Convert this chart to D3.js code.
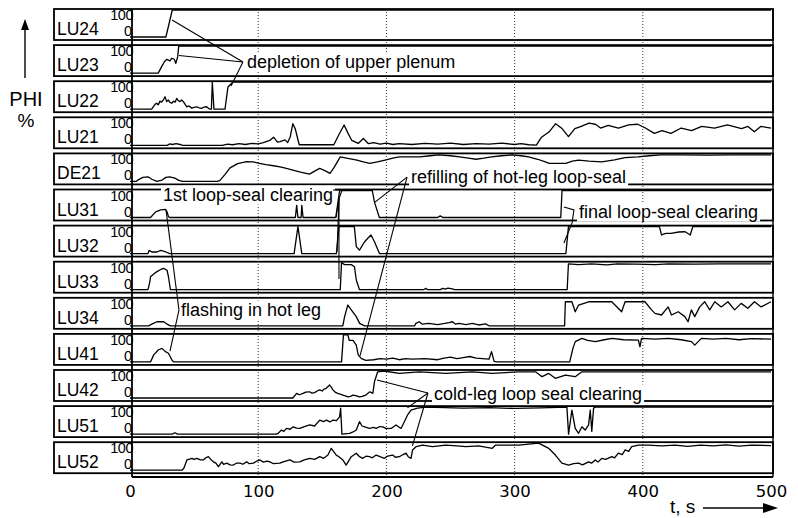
<!DOCTYPE html>
<html>
  <head>
    <meta charset="utf-8">
    <title>PHI strips</title>
    <style>
      body { margin: 0; background: #fff; }
      svg text { font-family: "Liberation Sans", Arial, sans-serif; fill: #000; }
      .num { font-family: "DejaVu Sans", sans-serif; }
    </style>
  </head>
  <body>
    <div id="vis"></div>
    <script src="https://d3js.org/d3.v7.min.js"></script>
    <script>
      // probe names, top to bottom
      const labels = ['LU24','LU23','LU22','LU21','DE21','LU31','LU32','LU33','LU34','LU41','LU42','LU51','LU52']
      const xTicks = [0,100,200,300,400,500]
      const gridTicks = [100,200,300,400]
      const rangeLabels = ['100','0']

      // [t in s, PHI in %]
      const lu24 = [[0,0],[28,0],[33,100],[500,100]]
      const lu23 = [[0,0],[22,0],[24.7,24],[26.8,42],[28.6,51],[31.2,45],[32.5,55],[34.6,51],[35.7,36],[37.2,61],[38,100],[500,100]]
      const lu22 = [[0,0],[16.9,0],[18,8],[19.5,18],[20.8,22],[22,16],[23.4,30],[24.6,26],[26,34],[27.3,46],[28.6,28],[29.9,34],[31,26],[32.5,22],[34,30],[35.2,26],[36.4,40],[37.6,32],[39,28],[40.3,34],[41.6,28],[43,18],[44.3,9],[46,12],[48.1,4],[50,7],[52,9],[54,5],[55.9,3],[57.8,8],[59.8,9],[61,4],[62.4,0],[63.5,0],[64.2,100],[65.5,0],[74.1,0],[76.4,82],[79.3,96],[80,100],[500,100]]
      const lu21 = [[0,0],[29,0],[31,5],[33,3],[36,6],[39,3],[41,0],[72,0],[76,4],[80,2],[85,6],[90,3],[95,7],[100,5],[104,10],[109,18],[112,30],[115,12],[117,14],[121,20],[123,10],[125,32],[127,80],[129,60],[130,40],[132,2],[159,2],[163,40],[167,75],[170,45],[173,18],[178,7],[182,25],[186,6],[190,10],[195,4],[200,8],[205,3],[210,6],[220,3],[230,7],[240,4],[250,8],[260,3],[270,6],[280,4],[290,8],[300,3],[305,6],[311,2],[317,1],[321,30],[327,50],[332,80],[337,62],[342,32],[347,62],[352,70],[358,82],[363,78],[367,64],[373,74],[381,64],[389,76],[396,78],[402,64],[409,44],[415,54],[422,44],[430,64],[438,54],[446,70],[456,64],[466,76],[477,62],[482,70],[487,50],[492,70],[500,64]]
      const de21 = [[0,0],[5,0],[6,5],[10,15],[14,17],[17,8],[21,0],[25,5],[28,15],[31,17],[35,12],[38,4],[41,0],[68,0],[70,3],[74,25],[78,50],[84,66],[91,73],[96,72],[101,67],[106,62],[112,58],[117,54],[122,48],[127,42],[133,34],[140,27],[144,38],[148,48],[152,40],[156,30],[159,50],[164,91],[170,85],[177,79],[182,72],[187,67],[193,72],[199,79],[205,86],[210,91],[218,91],[226,91],[234,95],[241,98],[250,95],[257,91],[264,86],[270,82],[276,86],[282,91],[290,95],[298,98],[305,95],[311,91],[318,82],[324,72],[327,67],[333,67],[340,67],[345,75],[350,79],[358,75],[368,72],[378,80],[386,88],[396,91],[405,95],[414,98],[430,98],[450,97],[470,98],[500,98]]
      const lu31 = [[0,0],[16,0],[20,21],[24,28],[27.6,30],[29,20],[30,3],[31,0],[129,0],[130,46],[131,0],[133.5,0],[134,46],[135,0],[160.5,0],[163.5,100],[189,100],[190.7,57],[194.5,0],[240,0],[242,6],[244,0],[336,0],[337,100],[500,100]]
      const lu32 = [[0,0],[14,0],[15,12],[17,6],[21,6],[24,12],[28,6],[31,0],[128,0],[131,100],[134,0],[161,0],[163,100],[175,100],[176.5,26],[179,13],[183,44],[185.5,57],[188,69],[190.7,44],[194.6,0],[340,0],[342,100],[413,100],[414.6,69],[418,75],[422,75],[428,80],[433,81],[437,69],[439,100],[500,100]]
      const lu33 = [[0,0],[14,0],[14.6,11],[15.5,30],[16,48],[19,60],[21,67],[24,75],[26.3,79],[28.9,72],[30,48],[31.5,0],[164,0],[165,100],[167.4,93],[172.6,93],[175.1,85],[176.5,36],[179,0],[229,0],[230.8,5],[232,0],[242,0],[244,5],[246,2],[248,6],[251.5,3],[253,0],[341,0],[342,96],[350,93],[360,96],[372,92],[380,96],[395,95],[410,93],[420,96],[440,95],[460,96],[500,96]]
      const lu34 = [[0,0],[14.6,0],[17,6],[21,15],[26.3,15],[29,6],[31.5,0],[166,0],[167.4,34],[169.9,77],[172.6,59],[176.5,34],[179.1,9],[183,0],[222,0],[223,9],[225.6,15],[228,6],[233,9],[240,4],[249,12],[251.5,15],[254,6],[256.7,9],[262,4],[267,9],[272,3],[277.4,7],[280,0],[339,0],[339.6,89],[344.7,89],[347.3,52],[349.9,77],[357.7,89],[375.8,89],[383.5,52],[386.2,89],[396.5,89],[401.7,89],[406.8,59],[409.5,46],[414.6,40],[419.8,70],[422.4,40],[427.6,52],[432.8,34],[435.3,15],[437.9,59],[440.5,34],[444.4,70],[448.3,89],[452.2,59],[456.1,89],[461.2,70],[466.4,89],[471.6,59],[476.7,83],[481.9,65],[487.1,89],[492.3,70],[500,89]]
      const lu41 = [[0,0],[16,0],[18.5,26],[22,44],[25,50],[27.6,38],[30,32],[32.8,6],[34,0],[165,0],[166.5,100],[170,100],[171,80],[174,80],[176.5,62],[178,26],[180.5,12],[184,6],[190,8],[195,12],[200,10],[205,14],[210,8],[215,12],[220,10],[230,12],[240,8],[245,14],[250,18],[255,12],[260,16],[265,20],[270,14],[275,12],[280,10],[282,38],[284,2],[286,0],[343,0],[345.5,50],[347.3,75],[352.5,87],[357,80],[363,75],[370,82],[376,87],[385,82],[396.5,81],[397.8,56],[399,87],[410,84],[420,87],[430,82],[438,75],[440.5,62],[445.7,87],[455,84],[465,87],[475,82],[485,86],[500,84]]
      const lu42 = [[0,0],[127,0],[130,17],[132,12],[135,17],[137,22],[140,23],[142,18],[144,20],[146,26],[148,30],[150,26],[151,32],[153,36],[155.7,48],[157,40],[158.3,30],[160,22],[162,17],[164,14],[166,11],[168,8],[170,4],[172,6],[174,11],[176,9],[179,4],[181,6],[184,11],[187,23],[189.4,17],[190.7,60],[193.2,97],[198.4,100],[210,91],[225.6,97],[246.4,91],[267,97],[282.6,91],[303.3,97],[316.3,97],[321.4,79],[326.6,91],[331.8,73],[339.6,85],[347.3,79],[352.5,97],[500,97]]
      const lu51 = [[0,0],[33,0],[35,5],[37,0],[114,0],[115.6,3],[118.2,15],[120,10],[122.1,21],[125,18],[127.2,27],[130,22],[132.4,21],[136,28],[140.2,34],[144,30],[148,52],[151,46],[153.2,52],[156,45],[158.3,52],[161,50],[163.5,64],[164.3,96],[165.3,0],[171.3,3],[174,8],[176.5,15],[179,46],[181,30],[183,27],[186.8,21],[190,25],[192,21],[195,28],[197.1,27],[200,20],[203.7,21],[207.5,34],[211.4,21],[214,46],[216.5,71],[219.2,89],[224.3,96],[230.8,100],[260,96],[280,98],[300,95],[320,97],[340.8,100],[342.1,0],[344.7,89],[347.3,21],[349.9,3],[352.5,27],[355.1,15],[357.7,34],[359,89],[360.2,10],[361.6,96],[363,100],[500,100]]
      const lu52 = [[0,0],[40.5,0],[42,7],[44.4,38],[48.3,44],[50,40],[52.2,44],[55,38],[57.3,38],[59,46],[61.2,50],[63,40],[65.1,31],[67,26],[69,13],[71.6,31],[73,22],[75.5,26],[78,20],[80.6,19],[83,26],[85.8,26],[88,22],[91,31],[93,24],[96.2,26],[99,34],[101.4,38],[104,30],[107,34],[109.1,31],[112,24],[116.9,26],[120,32],[124.7,38],[128,30],[132.4,31],[136,38],[140.2,44],[144,40],[148,50],[151,44],[154.4,56],[157,81],[160.9,56],[163,50],[166,38],[168.6,19],[170,30],[172.6,50],[176.5,63],[179,50],[181.6,44],[184,52],[186.8,50],[189,46],[192,56],[195,50],[198.4,44],[201,52],[204.9,56],[207,48],[210.1,50],[213,58],[215.3,63],[217,50],[219.2,44],[220.4,75],[223.1,87],[228.2,93],[236,87],[246.4,93],[255,90],[261.9,87],[272,90],[282.6,81],[285.2,93],[303.3,93],[318.8,100],[326.6,81],[331.8,56],[336.9,26],[342.1,19],[346,24],[349.9,26],[353,20],[357.7,31],[360,26],[362.9,38],[365,30],[368.1,44],[371,40],[375.9,50],[378,46],[381,63],[384,58],[386.2,75],[389,70],[391.3,87],[396.5,93],[404.3,93],[415,90],[425,93],[435,88],[445,93],[455,90],[465,94],[475,89],[485,93],[500,91]]
      const series = [lu24,lu23,lu22,lu21,de21,lu31,lu32,lu33,lu34,lu41,lu42,lu51,lu52]

      // annotations, points given as [panel, t, PHI]
      const notes = [
        {text:'depletion of upper plenum', at:[1,91.3,19], from:[1,88.1,41], to:[[0,32.8,63],[1,38.2,65],[2,78.8,86]]},
        {text:'1st loop-seal clearing', at:[5,25.7,61], bracket:[[5,158.3,102],[5,165.4,102],[5,163,68.5]], from:[5,163,68.5], to:[[5,160.7,0],[6,161.5,6],[7,163,40]]},
        {text:'refilling of hot-leg loop-seal', at:[4,219.2,-6], from:[4,216.1,16], to:[[5,191.1,57],[9,179.4,22]]},
        {text:'final loop-seal clearing', at:[5,350.2,-2], bracket:[[5,338.5,39],[5,346.3,28],[5,344.8,-20],[6,338.5,39]]},
        {text:'flashing in hot leg', at:[8,39.8,36], from:[8,38.2,58.5], to:[[5,28.1,28],[9,31.2,40]]},
        {text:'cold-leg loop seal clearing', at:[10,237.1,-7], from:[10,232.4,18.5], to:[[10,192.7,67],[11,216.4,97],[12,220.3,90]]}
      ]

      const width = 798, height = 518,
            panelTop = 9, panelStep = 36.1, panelH = 31,
            boxLeft = 54, axisX = 132, rightX = 773, axisY = 477

      const x = d3.scaleLinear().domain([0,500]).range([130,771])
      const panelY = i => panelTop + i*panelStep
      const ys = series.map((s,i) => d3.scaleLinear().domain([0,100]).range([panelY(i)+28, panelY(i)+1]))
      const px = p => [x(p[1]), ys[p[0]](p[2])]

      const svg = d3.select('#vis').append('svg').attr('width',width).attr('height',height)

      // panel frames
      svg.selectAll('rect.frame')
        .data(labels)
        .join('rect')
        .attr('class','frame')
        .attr('x',boxLeft)
        .attr('y',(d,i)=>panelY(i))
        .attr('width',rightX-boxLeft)
        .attr('height',panelH)
        .attr('fill','none')
        .attr('stroke','#000')
        .attr('stroke-width',1.8)

      // dotted time grid
      svg.selectAll('line.grid')
        .data(gridTicks)
        .join('line')
        .attr('class','grid')
        .attr('x1',d=>x(d)).attr('x2',d=>x(d))
        .attr('y1',panelTop).attr('y2',axisY)
        .attr('stroke','#333')
        .attr('stroke-width',1)
        .attr('stroke-dasharray','1,2')

      // axes frame
      svg.append('line').attr('x1',axisX).attr('x2',axisX).attr('y1',panelTop).attr('y2',axisY)
        .attr('stroke','#000').attr('stroke-width',1.8)
      svg.append('line').attr('x1',rightX).attr('x2',rightX).attr('y1',panelTop).attr('y2',axisY)
        .attr('stroke','#000').attr('stroke-width',1.4)

      // panel labels and 100 / 0 marks
      const lab = svg.selectAll('g.lab')
        .data(labels)
        .join('g')
        .attr('class','lab')
      lab.append('text')
        .text(d=>d)
        .attr('x',57)
        .attr('y',(d,i)=>panelY(i)+26)
        .attr('font-size',17.5)
        .attr('font-weight',400)
      lab.append('text')
        .text(rangeLabels[0])
        .attr('x',133)
        .attr('y',(d,i)=>ys[i](100)+10)
        .attr('text-anchor','end')
        .attr('font-size',14.5)
        .attr('letter-spacing',-0.5)
      lab.append('text')
        .text(rangeLabels[1])
        .attr('x',132)
        .attr('y',(d,i)=>ys[i](0)-1)
        .attr('text-anchor','end')
        .attr('font-size',14.5)

      // signals
      svg.selectAll('path.sig')
        .data(series)
        .join('path')
        .attr('class','sig')
        .attr('d',(d,i)=>d3.line().x(p=>x(p[0])).y(p=>ys[i](p[1]))(d))
        .attr('fill','none')
        .attr('stroke','#000')
        .attr('stroke-width',1.3)
        .attr('stroke-linejoin','round')

      // bottom axis
      const xAxis = svg.append('g')
        .attr('transform','translate(0,'+axisY+')')
        .call(d3.axisBottom(x).tickValues(xTicks).tickSize(0).tickPadding(8).tickFormat(d3.format('d')))
      xAxis.select('.domain').remove()
      xAxis.selectAll('text').attr('class','num').attr('font-size',16.5).attr('fill','#000')
      svg.append('line').attr('x1',axisX).attr('x2',rightX).attr('y1',axisY).attr('y2',axisY)
        .attr('stroke','#000').attr('stroke-width',1.8)

      // annotations
      const ann = svg.selectAll('g.note')
        .data(notes)
        .join('g')
        .attr('class','note')
      ann.append('rect').attr('fill','#fff')
      const tx = ann.append('text')
        .text(d=>d.text)
        .attr('x',d=>px(d.at)[0])
        .attr('y',d=>px(d.at)[1])
        .attr('font-size',18)
      tx.each(function(d){
        const b = this.getBBox()
        d3.select(this.parentNode).select('rect')
          .attr('x',b.x-2).attr('y',b.y+0.5).attr('width',b.width+4).attr('height',b.height-1)
      })
      ann.each(function(d){
        const g = d3.select(this)
        if (d.bracket) {
          g.append('path').attr('d',d3.line()(d.bracket.map(px)))
            .attr('fill','none').attr('stroke','#000').attr('stroke-width',1.1)
        }
        if (d.to) {
          g.selectAll('line.lead')
            .data(d.to)
            .join('line')
            .attr('class','lead')
            .attr('x1',px(d.from)[0]).attr('y1',px(d.from)[1])
            .attr('x2',p=>px(p)[0]).attr('y2',p=>px(p)[1])
            .attr('stroke','#000').attr('stroke-width',1.1)
        }
      })

      // axis titles
      svg.append('line').attr('x1',25).attr('x2',25).attr('y1',78).attr('y2',26)
        .attr('stroke','#000').attr('stroke-width',1.4)
      svg.append('path').attr('d','M21,30 L25,19 L29,30 Z').attr('fill','#000')
      svg.append('text').text('PHI').attr('x',26).attr('y',106).attr('text-anchor','middle').attr('font-size',20)
      svg.append('text').text('%').attr('x',26).attr('y',127).attr('text-anchor','middle').attr('font-size',19)
      svg.append('text').text('t, s').attr('x',670).attr('y',513).attr('font-size',19)
      svg.append('line').attr('x1',703).attr('x2',770).attr('y1',508).attr('y2',508)
        .attr('stroke','#000').attr('stroke-width',1.4)
      svg.append('path').attr('d','M763,503 L778,508 L763,513 Z').attr('fill','#000')
    </script>
  </body>
</html>
